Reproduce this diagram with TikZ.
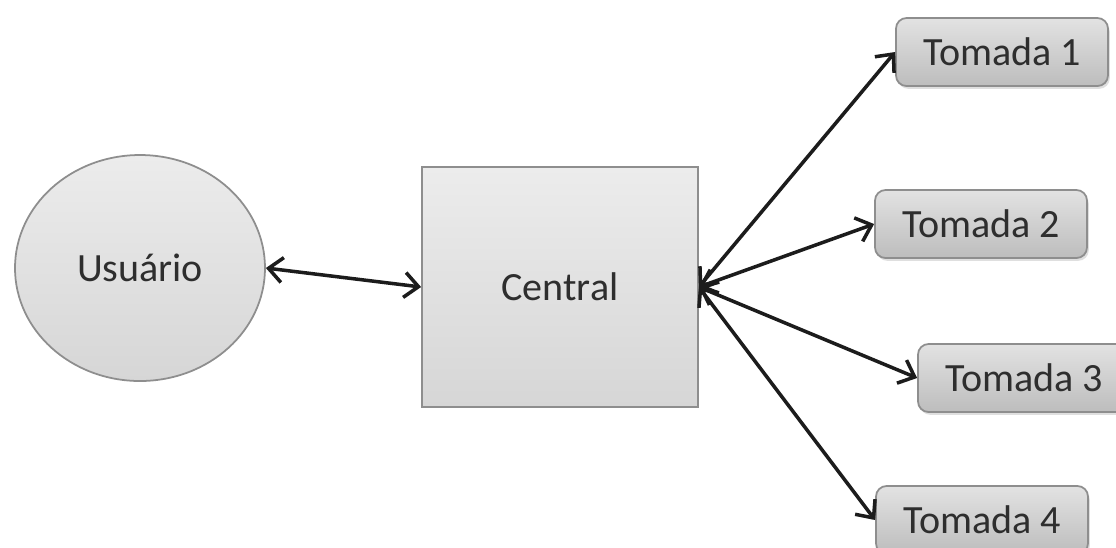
\documentclass[tikz,border=0pt]{standalone}
\usepackage{fontspec}
\setmainfont{Carlito}
\usetikzlibrary{arrows.meta,shapes.geometric,shadows}
\definecolor{ink}{HTML}{2E2E2E}
\definecolor{wire}{HTML}{1C1C1C}
\definecolor{edge}{HTML}{8E8E8E}
\definecolor{light}{HTML}{ECECEC}
\definecolor{mid}{HTML}{D6D6D6}
\definecolor{dark}{HTML}{BDBDBD}
\definecolor{paper}{HTML}{FFFFFF}

\begin{document}
\begin{tikzpicture}[font=\fontsize{11.4}{13}\selectfont,text=ink,
  >={Straight Barb[length=1.4mm,width=2.5mm]},
  block/.style={draw=edge,line width=0.5pt,top color=light,bottom color=mid},
  plug/.style={block,rounded corners=3pt,top color=mid!70!white,bottom color=dark,
    minimum width=2.12cm,minimum height=0.68cm,
    drop shadow={shadow xshift=0.5pt,shadow yshift=-0.8pt,opacity=0.25}},
  link/.style={<->,line width=1pt,wire}]
  \useasboundingbox (0,0) rectangle (11.16,-5.47);
  \clip (0,0) rectangle (11.16,-5.47);
  \fill[paper] (0,0) rectangle (11.16,-5.47);
  % user and hub
  \node[block,ellipse,top color=light,bottom color=mid,
    minimum width=2.5cm,minimum height=2.26cm] (usuario) at (1.40,-2.68) {Usuário};
  \node[block,minimum width=2.76cm,minimum height=2.40cm] (central) at (5.60,-2.87) {Central};
  % outlets
  \node[plug] (tomada1) at (10.02,-0.52) {Tomada 1};
  \node[plug] (tomada2) at (9.81,-2.24) {Tomada 2};
  \node[plug] (tomada3) at (10.24,-3.78) {Tomada 3};
  \node[plug] (tomada4) at (9.82,-5.20) {Tomada 4};
  % connections
  \draw[link] (usuario.east) -- (central.west);
  \foreach \k in {1,...,4}
    \draw[link] (central.east) -- (tomada\k.west);
\end{tikzpicture}
\end{document}
